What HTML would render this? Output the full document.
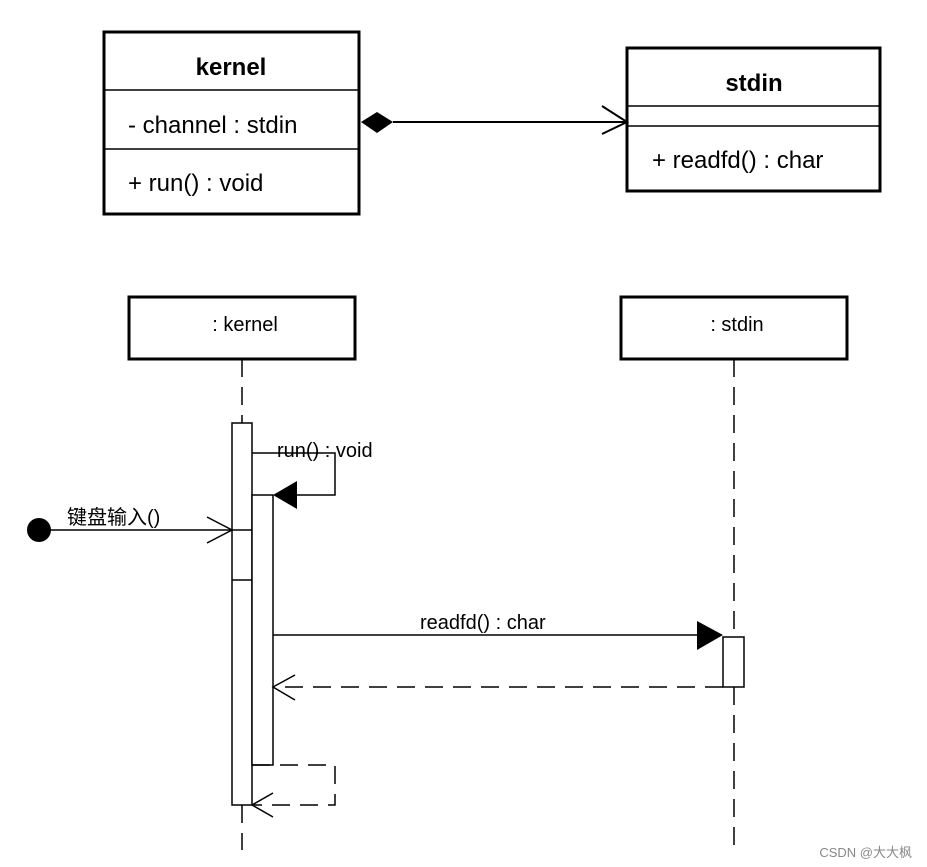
<!DOCTYPE html>
<html><head><meta charset="utf-8"><style>body{margin:0;background:#fff}svg{display:block}</style></head>
<body>
<svg width="927" height="867" xmlns="http://www.w3.org/2000/svg" font-family="Liberation Sans, DejaVu Sans, sans-serif">
<g fill="none" stroke="#000">
<rect x="104" y="32" width="255" height="182" stroke-width="3"/>
<line x1="104" y1="90" x2="359" y2="90" stroke-width="1.5"/>
<line x1="104" y1="149" x2="359" y2="149" stroke-width="1.5"/>
<rect x="627" y="48" width="253" height="143" stroke-width="3"/>
<line x1="627" y1="106" x2="880" y2="106" stroke-width="1.5"/>
<line x1="627" y1="126" x2="880" y2="126" stroke-width="1.5"/>
<line x1="393" y1="122" x2="627" y2="122" stroke-width="2"/>
<polyline points="602,106 627,122 602,134" stroke-width="2"/>
<rect x="129" y="297" width="226" height="62" stroke-width="3"/>
<rect x="621" y="297" width="226" height="62" stroke-width="3"/>
<g stroke-dasharray="18,10" stroke-width="1.5">
<line x1="242" y1="359" x2="242" y2="423"/>
<line x1="242" y1="805" x2="242" y2="850"/>
<line x1="734" y1="359" x2="734" y2="637"/>
<line x1="734" y1="687" x2="734" y2="850"/>
</g>
<rect x="232" y="423" width="20" height="382" fill="#fff" stroke-width="1.5"/>
<line x1="232" y1="530" x2="252" y2="530" stroke-width="1.5"/>
<line x1="232" y1="580" x2="252" y2="580" stroke-width="1.5"/>
<rect x="252" y="495" width="21" height="270" fill="#fff" stroke-width="1.5"/>
<polyline points="252,453 335,453 335,495 297,495" stroke-width="1.5"/>
<line x1="50" y1="530" x2="232" y2="530" stroke-width="1.5"/>
<polyline points="207,517 232,530 207,543" stroke-width="1.5"/>
<line x1="273" y1="635" x2="700" y2="635" stroke-width="1.5"/>
<rect x="723" y="637" width="21" height="50" fill="#fff" stroke-width="1.5"/>
<line x1="723" y1="687" x2="275" y2="687" stroke-width="1.5" stroke-dasharray="18,10"/>
<polyline points="295,675 273,687 295,700" stroke-width="1.5"/>
<polyline points="252,765 335,765 335,805 254,805" stroke-width="1.5" stroke-dasharray="18,10"/>
<polyline points="273,793 252,805 273,817" stroke-width="1.5"/>
</g>
<polygon points="361,122 377,112 393,122 377,133" fill="#000"/>
<polygon points="273,495 297,481 297,509" fill="#000"/>
<polygon points="723,635 697,621 697,650" fill="#000"/>
<circle cx="39" cy="530" r="12" fill="#000"/>
<g font-size="24" fill="#000">
<text x="231" y="75" text-anchor="middle" font-weight="bold">kernel</text>
<text x="128" y="133">- channel : stdin</text>
<text x="128" y="191">+ run() : void</text>
<text x="754" y="91" text-anchor="middle" font-weight="bold">stdin</text>
<text x="652" y="168">+ readfd() : char</text>
</g>
<g font-size="20" fill="#000">
<text x="245" y="331" text-anchor="middle">: kernel</text>
<text x="737" y="331" text-anchor="middle">: stdin</text>
<text x="277" y="457">run() : void</text>
<text x="420" y="629">readfd() : char</text>
<text x="67" y="524" font-family="Liberation Sans, Noto Sans CJK SC, sans-serif">键盘输入()</text>
</g>
<text x="912" y="857" font-size="13" fill="#888" text-anchor="end" font-family="Liberation Sans, Noto Sans CJK SC, sans-serif">CSDN @大大枫</text>
</svg>
</body></html>
